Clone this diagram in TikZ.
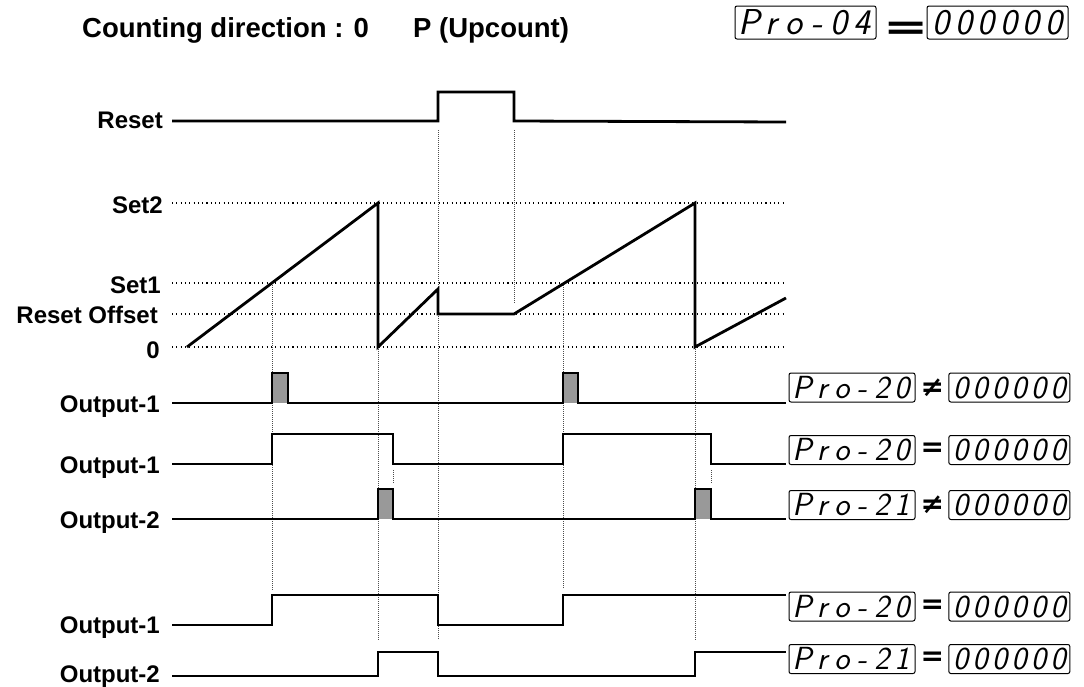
\documentclass[tikz,border=0pt]{standalone}
\usepackage{fontspec}
\setmainfont{Liberation Sans}
\newfontfamily\signfont{DejaVu Sans}
\usetikzlibrary{positioning}

% one fixed-width cell per display character
\newcommand{\lcd}[2]{\foreach \lcdc in {#2}{\makebox[#1]{\lcdc}}}

\begin{document}
\begin{tikzpicture}[
    x=1pt, y=-1pt,
    head/.style={anchor=base west, inner sep=0pt, font=\fontsize{27.5}{30}\selectfont\bfseries},
    lbl/.style={anchor=base east, inner sep=0pt, font=\fontsize{24}{28}\selectfont\bfseries},
    wave/.style={line width=2.8pt, line join=miter},
    gridline/.style={line width=1.1pt, dash pattern=on 1.1pt off 3.2pt},
    guide/.style={black!70, line width=0.8pt, dash pattern=on 1pt off 1pt},
    pulse/.style={fill=black!40},
    disp/.style={draw, rounded corners=2pt, line width=1pt, inner sep=0pt, minimum height=29pt, font=\fontsize{32}{32}\selectfont\sffamily\slshape},
    rel/.style={inner sep=0pt, font=\fontsize{28}{28}\selectfont\signfont\bfseries}
]
\useasboundingbox (0,0) rectangle (1084,686);

% Title
\node (title) [head] at (82,37) {Counting direction : 0};
\node (mode) [head] at (413,37) {P (Upcount)};
\node (pro04) [disp, minimum width=141pt, minimum height=33pt, font=\fontsize{36}{36}\selectfont\sffamily\slshape] at (805.5,22.5) {\lcd{22.5pt}{P,r,o,-,0,4}};
\node (eq04) [rel, xscale=1.5, font=\fontsize{36}{36}\selectfont\signfont\bfseries] at (906,30.5) {=};
\node (val04) [disp, minimum width=141pt, minimum height=33pt, font=\fontsize{36}{36}\selectfont\sffamily\slshape] at (997.5,22.5) {\lcd{22.5pt}{0,0,0,0,0,0}};

% Labels
\node (reset) [lbl] at (163,128) {Reset};
\node (set2) [lbl] at (163,213) {Set2};
\node (set1) [lbl] at (161,293) {Set1};
\node (resetoff) [lbl] at (158,323) {Reset Offset};
\node (zero) [lbl] at (160,358) {0};
\node (out1a) [lbl] at (160,412) {Output-1};
\node (out1b) [lbl] at (160,473) {Output-1};
\node (out2a) [lbl] at (160,528) {Output-2};
\node (out1c) [lbl] at (160,633) {Output-1};
\node (out2b) [lbl] at (160,682) {Output-2};

% Levels and guides
\draw [gridline] (172,203) -- (786,203);
\draw [gridline] (172,283) -- (786,283);
\draw [gridline] (172,314) -- (786,314);
\draw [gridline] (172,347) -- (786,347);
\draw [guide] (272,283) -- (272,590);
\draw [guide] (378,347) -- (378,640);
\draw [guide] (438,130) -- (438,640);
\draw [guide] (514,130) -- (514,303);
\draw [guide] (563,283) -- (563,588);
\draw [guide] (695,347) -- (695,640);
\draw [guide] (393,470) -- (393,484);
\draw [guide] (711,470) -- (711,484);

% Waveforms
\draw [wave] (172,121) -- (438,121) -- (438,92) -- (514,92) -- (514,121) -- (786,122);
\draw [wave] (187,347) -- (378,203) -- (378,347) -- (438,289) -- (438,314) -- (514,314) -- (695,203) -- (695,347) -- (786,298);
\fill [pulse] (272,373) rectangle (288,403);
\fill [pulse] (563,373) rectangle (578,403);
\draw [wave] (172,403) -- (272,403) -- (272,373) -- (288,373) -- (288,403) -- (563,403) -- (563,373) -- (578,373) -- (578,403) -- (786,403);
\draw [wave] (172,464) -- (272,464) -- (272,434) -- (393,434) -- (393,464) -- (563,464) -- (563,434) -- (711,434) -- (711,464) -- (786,464);
\fill [pulse] (378,489) rectangle (393,519);
\fill [pulse] (695,489) rectangle (711,519);
\draw [wave] (172,519) -- (378,519) -- (378,489) -- (393,489) -- (393,519) -- (695,519) -- (695,489) -- (711,489) -- (711,519) -- (786,519);
\draw [wave] (172,625) -- (272,625) -- (272,595) -- (438,595) -- (438,625) -- (563,625) -- (563,595) -- (786,595);
\draw [wave] (172,676) -- (378,676) -- (378,652) -- (438,652) -- (438,676) -- (695,676) -- (695,652) -- (786,652);

% Displays
\node (pro20a) [disp, minimum width=126pt] at (852,387.5) {\lcd{20pt}{P,r,o,-,2,0}};
\node (ne20a) [rel, right=5pt of pro20a] {≠};
\node (val20a) [disp, minimum width=121pt, right=4pt of ne20a] {\lcd{19.5pt}{0,0,0,0,0,0}};
\node (pro20b) [disp, minimum width=126pt] at (852,450) {\lcd{20pt}{P,r,o,-,2,0}};
\node (eq20b) [rel, right=5pt of pro20b] {=};
\node (val20b) [disp, minimum width=121pt, right=4pt of eq20b] {\lcd{19.5pt}{0,0,0,0,0,0}};
\node (pro21a) [disp, minimum width=126pt] at (852,505) {\lcd{20pt}{P,r,o,-,2,1}};
\node (ne21a) [rel, right=5pt of pro21a] {≠};
\node (val21a) [disp, minimum width=121pt, right=4pt of ne21a] {\lcd{19.5pt}{0,0,0,0,0,0}};
\node (pro20c) [disp, minimum width=126pt] at (852,606.5) {\lcd{20pt}{P,r,o,-,2,0}};
\node (eq20c) [rel, right=5pt of pro20c] {=};
\node (val20c) [disp, minimum width=121pt, right=4pt of eq20c] {\lcd{19.5pt}{0,0,0,0,0,0}};
\node (pro21b) [disp, minimum width=126pt] at (852,659) {\lcd{20pt}{P,r,o,-,2,1}};
\node (eq21b) [rel, right=5pt of pro21b] {=};
\node (val21b) [disp, minimum width=121pt, right=4pt of eq21b] {\lcd{19.5pt}{0,0,0,0,0,0}};

\end{tikzpicture}
\end{document}
